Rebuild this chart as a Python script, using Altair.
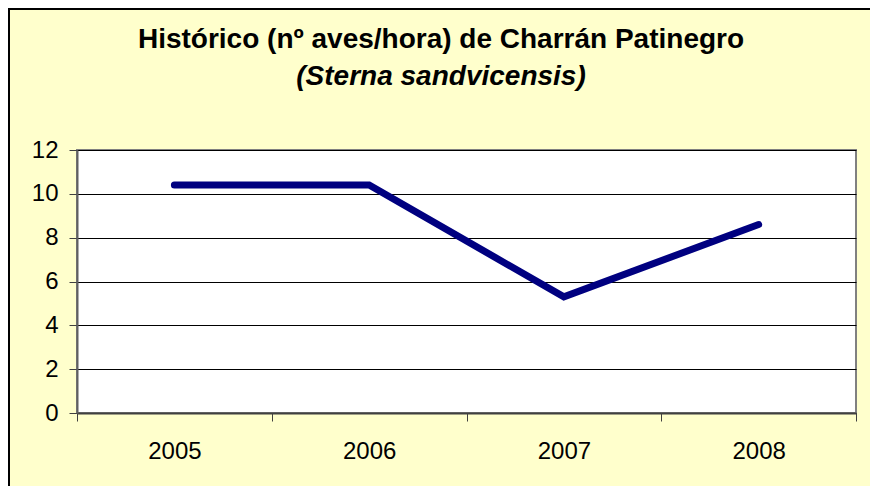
import altair as alt
import pandas as pd

years = ["2005", "2006", "2007", "2008"]
values = [10.4, 10.4, 5.3, 8.6]
title_lines = ["Histórico (nº aves/hora) de Charrán Patinegro"]
subtitle_lines = ["(Sterna sandvicensis)"]

df = pd.DataFrame({"year": years, "value": values})

W, H = 779, 263
PL, PT, PR, PB = 69, 142, 14, 73

line = alt.Chart(df).mark_line(
    color="#000080", strokeWidth=7, strokeCap="round", strokeJoin="miter"
).encode(
    x=alt.X("year:O", title=None,
            scale=alt.Scale(type="band", paddingInner=0, paddingOuter=0),
            axis=alt.Axis(labelAngle=0, tickBand="extent", grid=False,
                          domainColor="#404040", domainWidth=2,
                          tickColor="#404040", tickSize=8, tickWidth=1,
                          labelFont="Liberation Sans", labelFontSize=24,
                          labelColor="black", labelPadding=18)),
    y=alt.Y("value:Q", title=None,
            scale=alt.Scale(domain=[0, 12], nice=False, zero=True),
            axis=alt.Axis(values=[0, 2, 4, 6, 8, 10, 12], grid=True,
                          gridColor="black", gridWidth=1,
                          domainColor="#606060", domainWidth=2,
                          tickColor="#404040", tickSize=8, tickWidth=1,
                          labelFont="Liberation Sans", labelFontSize=24,
                          labelColor="black", labelPadding=11)),
)

border = alt.Chart(df).mark_rect(fill=None, stroke="black", strokeWidth=2).encode(
    x=alt.value(-PL + 1), x2=alt.value(W + PR + 10),
    y=alt.value(-PT + 1), y2=alt.value(H + PB + 10),
)

title = alt.Chart(pd.DataFrame({"t": title_lines})).mark_text(
    font="Liberation Sans", fontSize=28, fontWeight="bold", color="black",
    align="center", baseline="alphabetic"
).encode(text="t:N", x=alt.value(433 - PL), y=alt.value(40 - PT))

subtitle = alt.Chart(pd.DataFrame({"t": subtitle_lines})).mark_text(
    font="Liberation Sans", fontSize=28, fontWeight="bold", fontStyle="italic",
    color="black", align="center", baseline="alphabetic"
).encode(text="t:N", x=alt.value(433 - PL), y=alt.value(77 - PT))

chart = alt.layer(border, line, title, subtitle).properties(
    width=W, height=H,
    autosize=alt.AutoSizeParams(type="none"),
    padding={"left": PL, "top": PT, "right": PR, "bottom": PB},
    background="#FFFFCC",
).configure_view(
    fill="white", stroke="#808080", strokeWidth=2
)

chart.save("out.html", embed_options={"renderer": "svg", "actions": False})
